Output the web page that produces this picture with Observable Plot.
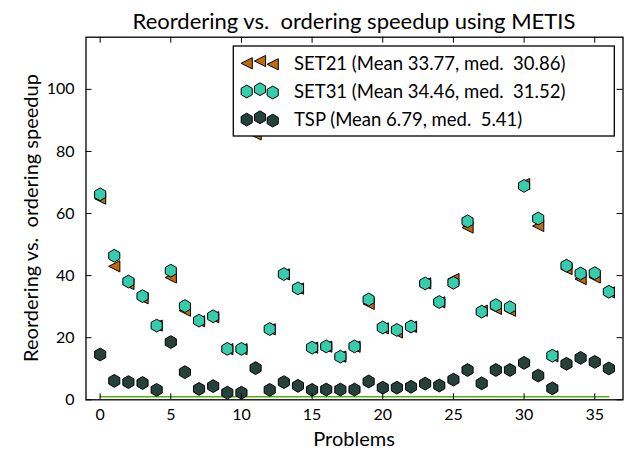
<!DOCTYPE html>
<html><head><meta charset="utf-8">
<script src="https://cdn.jsdelivr.net/npm/d3@7"></script>
<script src="https://cdn.jsdelivr.net/npm/@observablehq/plot@0.6"></script>
<style>
body{margin:0;background:#fff}
#chart{position:relative;width:627px;height:453px;font-family:Lato,sans-serif}
#chart svg{position:absolute;left:0;top:0}
</style>
</head><body><div id="chart"></div>
<script>
// ---- data ----
const problems = d3.range(37);
const set21 = [64.8, 43.0, 37.3, 32.7, 23.9, 39.4, 28.7, 25.3, 26.6, 16.3, 16.3, 85.5, 22.7, 40.4, 35.8, 16.8, 17.1, 13.9, 17.1, 30.9, 23.0, 21.7, 23.5, 37.5, 31.4, 38.9, 55.5, 28.7, 29.3, 28.7, 69.5, 56.0, 14.0, 42.1, 38.9, 39.4, 34.6];
const set31 = [66.2, 46.4, 38.1, 33.4, 23.9, 41.6, 30.2, 25.5, 26.9, 16.4, 16.4, 90.0, 22.8, 40.5, 35.9, 16.8, 17.2, 13.9, 17.2, 32.3, 23.3, 22.5, 23.6, 37.5, 31.5, 37.7, 57.5, 28.4, 30.5, 29.8, 68.9, 58.4, 14.2, 43.2, 40.7, 40.8, 34.8];
const tsp = [14.6, 6.1, 5.7, 5.41, 3.2, 18.6, 8.9, 3.5, 4.4, 2.3, 2.3, 10.2, 3.2, 5.7, 4.5, 3.2, 3.3, 3.3, 3.3, 5.9, 3.9, 3.9, 4.2, 5.2, 4.6, 6.5, 9.6, 5.3, 9.6, 9.6, 11.9, 7.8, 3.7, 11.6, 13.5, 12.2, 10.1];
const baseline = 1;
const seriesNames = ["SET21 (Mean 33.77, med.\u00a0 30.86)", "SET31 (Mean 34.46, med.\u00a0 31.52)", "TSP (Mean 6.79, med.\u00a0 5.41)"];
const xTicks = [0, 5, 10, 15, 20, 25, 30, 35];
const yTicks = [0, 20, 40, 60, 80, 100];
const xDomain = [-1, 37];
const yDomain = [0, 116.8];
const titleText = "Reordering vs.\u00a0 ordering speedup using METIS";
const xLabel = "Problems";
const yLabel = "Reordering vs.\u00a0 ordering speedup";

// ---- styles ----
const colors = ["#c2690c", "#35cdac", "#26413a"];
const lineColor = "#55b012";
const font = "Lato";

const hexSym = {draw(ctx, size) {
  const r = Math.sqrt(size / Math.PI);
  for (let i = 0; i < 6; i++) {
    const a = -Math.PI / 2 + i * Math.PI / 3;
    const x = r * Math.cos(a), y = r * Math.sin(a);
    i ? ctx.lineTo(x, y) : ctx.moveTo(x, y);
  }
  ctx.closePath();
}};
const triLeft = {draw(ctx, size) {
  const r = Math.sqrt(size / Math.PI);
  ctx.moveTo(-r, 0); ctx.lineTo(r, -r); ctx.lineTo(r, r); ctx.closePath();
}};
const symbols = [triLeft, hexSym, hexSym];
const radii = [5.6, 6.4, 6.4];

const rows = problems.map(i => ({i, s21: set21[i], s31: set31[i], tsp: tsp[i]}));
const keys = ["s21", "s31", "tsp"];

const W = 627, H = 453;
const mL = 85.5, mR = 4.5, mT = 36.7, mB = 53.7;
const fw = W - mL - mR, fh = H - mT - mB;
const tl = 6; // tick length, inward

const plot = Plot.plot({
  width: W, height: H,
  marginLeft: mL, marginRight: mR, marginTop: mT, marginBottom: mB,
  style: {fontFamily: font, fontSize: "16px", background: "transparent", color: "black"},
  x: {domain: xDomain},
  y: {domain: yDomain},
  marks: [
    Plot.line(problems, {x: d => d, y: () => baseline, stroke: lineColor, strokeWidth: 1.6}),
    ...keys.map((k, j) => Plot.dot(rows, {x: "i", y: k, symbol: symbols[j], r: radii[j], fill: colors[j], stroke: "black", strokeWidth: 1, fillOpacity: 1})),
    Plot.axisX({anchor: "bottom", ticks: xTicks, tickSize: 0, tickPadding: 9, label: null, fontSize: 16}),
    Plot.axisY({anchor: "left", ticks: yTicks, tickSize: 0, tickPadding: 11.5, label: null, fontSize: 16}),
    Plot.tickX(xTicks, {x: d => d, insetTop: fh - tl, stroke: "black"}),
    Plot.tickX(xTicks, {x: d => d, insetBottom: fh - tl, stroke: "black"}),
    Plot.tickY(yTicks, {y: d => d, insetRight: fw - tl, stroke: "black"}),
    Plot.tickY(yTicks, {y: d => d, insetLeft: fw - tl, stroke: "black"}),
    Plot.frame({stroke: "black", strokeWidth: 1.3})
  ]
});
const chart = document.getElementById("chart");
chart.append(plot);

// ---- overlay: title, labels, legend ----
const ov = d3.select(chart).append("svg").attr("width", W).attr("height", H)
  .style("pointer-events", "none").attr("font-family", font);
const cx = mL + fw / 2;
ov.append("text").attr("x", cx).attr("y", 29.3).attr("text-anchor", "middle")
  .attr("font-size", 22).text(titleText);
ov.append("text").attr("x", cx).attr("y", 446).attr("text-anchor", "middle")
  .attr("font-size", 20).text(xLabel);
ov.append("text").attr("transform", `translate(38,${mT + fh / 2}) rotate(-90)`)
  .attr("text-anchor", "middle").attr("font-size", 20).text(yLabel);

const lg = ov.append("g");
lg.append("rect").attr("x", 233.3).attr("y", 46).attr("width", 381).attr("height", 90)
  .attr("fill", "white").attr("stroke", "black").attr("stroke-width", 1.3);
const rowY = [61, 89.2, 117.3];
const mx = [246.7, 260, 272.7];
const my = [2.3, 0, 3.3];
seriesNames.forEach((name, j) => {
  const sym = d3.symbol().type(symbols[j]).size(Math.PI * radii[j] * radii[j]);
  mx.forEach((x, k) => {
    lg.append("path").attr("d", sym()).attr("transform", `translate(${x},${rowY[j] + my[k]})`)
      .attr("fill", colors[j]).attr("stroke", "black").attr("stroke-width", 1);
  });
  lg.append("text").attr("x", 294).attr("y", rowY[j] + 9).attr("font-size", 18.5).text(name);
});
</script></body></html>
